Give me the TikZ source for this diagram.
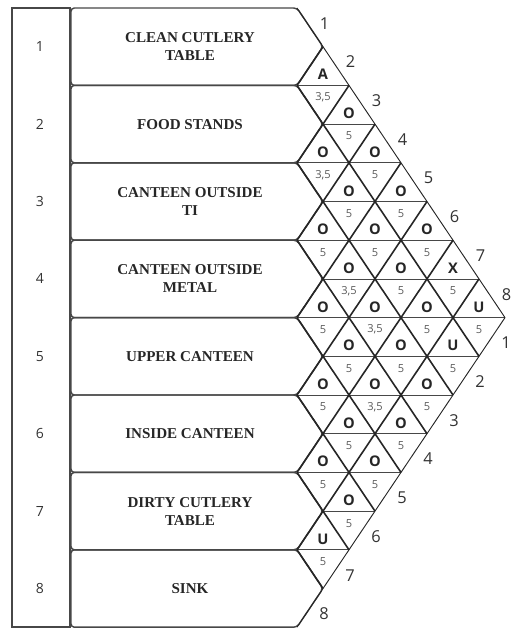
\documentclass[tikz,border=0pt]{standalone}
\usepackage{fontspec}
\setmainfont{Liberation Serif}
\setsansfont{Open Sans}

\begin{document}
\begin{tikzpicture}[x=0.75pt, y=-0.75pt,
    num/.style={font=\sffamily\fontsize{10.5}{12}\selectfont, text=black!80},
    act/.style={font=\bfseries\fontsize{11.3}{13.5}\selectfont, text=black!85, align=center},
    rate/.style={font=\sffamily\bfseries\fontsize{11}{12}\selectfont, text=black!85, inner sep=0},
    code/.style={font=\sffamily\fontsize{8.3}{9}\selectfont, text=black!65, inner sep=0},
    side/.style={font=\sffamily\fontsize{12.3}{13}\selectfont, text=black!80, inner sep=0},
    rowbox/.style={draw=ln, line width=1.1pt, rounded corners=2.5pt},
    diag/.style={draw=black!85, line width=1.2pt},
    hline/.style={draw=ln, line width=0.6pt},
    edge/.style={draw=black!85, line width=0.7pt, line join=bevel}]
    \colorlet{ln}{black!72}

    \useasboundingbox (0,0) rectangle (514,629);

    %% number column
    \draw[ln, line width=0.8pt] (12,8) rectangle (70,627);
    \foreach \r in {1,...,8}
      \node[num] (n\r) at (40,{8+77.4*(\r-0.5)}) {\r};

    %% activity boxes, pointed on the right
    \foreach \r in {1,...,8} {
      \pgfmathsetmacro\yt{8+77.4*(\r-1)}
      \draw[rowbox] (71,\yt) -- (297,\yt) -- (323,\yt+38.7) -- (297,\yt+77.4) -- (71,\yt+77.4) -- cycle;
    }

    \foreach \r/\t in {1/{CLEAN CUTLERY\\TABLE}, 2/{FOOD STANDS}, 3/{CANTEEN OUTSIDE\\TI},
                       4/{CANTEEN OUTSIDE\\METAL}, 5/{UPPER CANTEEN}, 6/{INSIDE CANTEEN},
                       7/{DIRTY CUTLERY\\TABLE}, 8/{SINK}}
      \node[act] (a\r) at (190,{8+77.4*(\r-0.5)}) {\t};

    %% diamond grid, one unit = half a diamond
    \begin{scope}[xshift=222.75pt, yshift=-6pt, x=19.5pt, y=-29.025pt]
      \foreach \n in {2,...,14} {
        \pgfmathtruncatemacro\ms{mod(\n,2)}
        \pgfmathtruncatemacro\me{min(\n,16-\n)}
        \draw[hline] (\ms,\n) -- (\me,\n);
      }
      \foreach \k in {1,...,7} {
        \draw[diag] (0,2*\k) -- (8-\k,8+\k);
        \draw[diag] (0,2*\k) -- (\k,\k);
      }
      \draw[edge] (0,0) -- (8,8) -- (0,16);

      %% rating on top, reason below
      \foreach \i/\j/\l/\c in {1/2/A/3{,}5, 1/3/O/5, 1/4/O/5, 1/5/O/5, 1/6/O/5, 1/7/X/5, 1/8/U/5,
                               2/3/O/3{,}5, 2/4/O/5, 2/5/O/5, 2/6/O/5, 2/7/O/5, 2/8/U/5,
                               3/4/O/5, 3/5/O/3{,}5, 3/6/O/3{,}5, 3/7/O/5, 3/8/O/5,
                               4/5/O/5, 4/6/O/5, 4/7/O/3{,}5, 4/8/O/5,
                               5/6/O/5, 5/7/O/5, 5/8/O/5,
                               6/7/O/5, 6/8/O/5,
                               7/8/U/5} {
        \node[rate, yshift=8pt] (r\i\j) at (\j-\i,\i+\j-1) {\l};
        \node[code, yshift=-9pt] (c\i\j) at (\j-\i,\i+\j-1) {\c};
      }

      %% numbers along both outer edges
      \foreach \k in {1,...,8} {
        \node[side, xshift=11pt, yshift=3pt] (u\k) at (\k-0.5,\k-0.5) {\k};
        \node[side, xshift=10.5pt, yshift=-4.5pt] (d\k) at (8.5-\k,7.5+\k) {\k};
      }
    \end{scope}

\end{tikzpicture}
\end{document}
